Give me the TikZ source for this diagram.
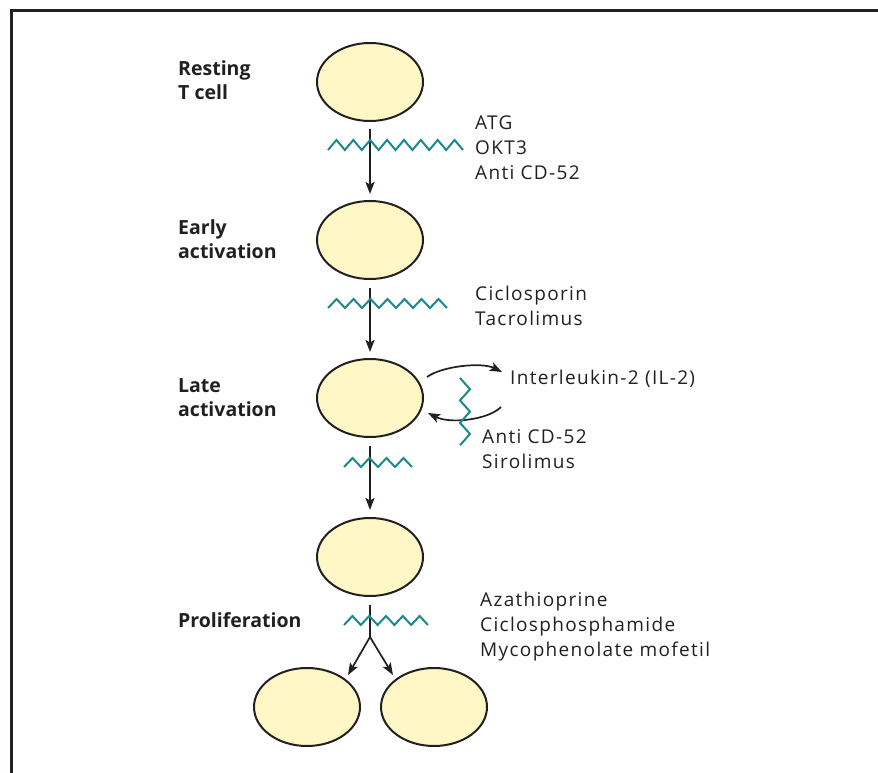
\documentclass[tikz,border=0pt]{standalone}
\usepackage{fontspec}
\setmainfont{Open Sans}
\newfontfamily\agentfont{Open Sans}[LetterSpace=7]
\usetikzlibrary{arrows.meta, positioning, shapes.geometric}
\definecolor{cellfill}{HTML}{FFF8C6}
\definecolor{drugteal}{HTML}{1C8A8C}
\definecolor{inkgrey}{HTML}{231F20}
\tikzset{
  cell/.style={ellipse, draw=inkgrey, fill=cellfill, line width=2pt, minimum width=106pt, minimum height=78pt, inner sep=0pt},
  arrow/.style={-{Stealth[length=12pt, width=9pt, inset=2.5pt]}, draw=inkgrey, line width=1.7pt},
  drug/.style={draw=drugteal, line width=2pt, line join=miter},
  stage/.style={font=\fontsize{19.5}{24}\selectfont\bfseries, align=left, anchor=base west, inner sep=0pt, text=inkgrey},
  agent/.style={font=\agentfont\fontsize{19}{25}\selectfont, align=left, anchor=base west, inner sep=0pt, text=inkgrey},
}

\begin{document}
\begin{tikzpicture}[x=1pt, y=-1pt]
  \useasboundingbox (0,0) rectangle (878,773);
  % ---------------- frame (open at right and bottom)
  \draw[inkgrey, line width=3pt] (878,11) -- (11,11) -- (11,773);
  % ---------------- cells
  \node[cell] (rest) at (370,82) {};
  \node[cell] (early) at (370,240) {};
  \node[cell] (late) at (370,398) {};
  \node[cell] (prolif) at (370,557) {};
  \node[cell] (daughterL) at (307,707) {};
  \node[cell] (daughterR) at (434,707) {};
  % ---------------- stage labels (base = last line)
  \node[stage] (restlbl) at (178,100) {Resting\\T cell};
  \node[stage] (earlylbl) at (178,258) {Early\\activation};
  \node[stage] (latelbl) at (178,416) {Late\\activation};
  \node[stage] (prolbl) at (178,627) {Proliferation};
  % ---------------- progression arrows
  \draw[arrow, shorten <=7pt, shorten >=6pt] (rest) -- (early);
  \draw[arrow, shorten <=8pt, shorten >=6pt] (early) -- (late);
  \draw[arrow, shorten <=8pt, shorten >=7pt] (late) -- (prolif);
  \coordinate (split) at (370,637);
  \coordinate (tipL) at (348,675);
  \coordinate (tipR) at (393,675);
  \draw[inkgrey, line width=1.7pt, shorten <=8pt] (prolif) -- (split);
  \draw[arrow] (split) -- (tipL);
  \draw[arrow] (split) -- (tipR);
  % ---------------- IL-2 loop
  \coordinate (lateout) at (427,377);
  \coordinate (ilin) at (502,372);
  \coordinate (ilout) at (501,407);
  \coordinate (latein) at (428,413);
  \draw[arrow] (lateout) .. controls (442,366) and (482,362) .. (ilin);
  \draw[arrow] (ilout) .. controls (488,420) and (450,424) .. (latein);
  % ---------------- blocks
  \draw[drug] (328,150) \foreach \k in {1,...,8} { -- ++(8.44,-10) -- ++(8.44,10) };
  \draw[drug] (328,308) \foreach \k in {1,...,7} { -- ++(8.5,-9) -- ++(8.5,9) };
  \draw[drug] (344,467) \foreach \k in {1,...,4} { -- ++(8.5,-9) -- ++(8.5,9) };
  \draw[drug] (344,625) \foreach \k in {1,...,5} { -- ++(8.4,-9) -- ++(8.4,9) };
  \draw[drug] (460,378) \foreach \k in {1,2,3} { -- ++(10,11.2) -- ++(-10,11.2) };
  % ---------------- agents (base = last line)
  \node[agent] (abs) at (475,179) {ATG\\OKT3\\Anti CD-52};
  \node[agent] (cni) at (475,325) {Ciclosporin\\Tacrolimus};
  \node[agent] (il) at (510,384) {Interleukin-2 (IL-2)};
  \node[agent] (mtor) at (482,468) {Anti CD-52\\Sirolimus};
  \node[agent] (antiprol) at (480,656) {Azathioprine\\Ciclosphosphamide\\Mycophenolate mofetil};
\end{tikzpicture}
\end{document}
